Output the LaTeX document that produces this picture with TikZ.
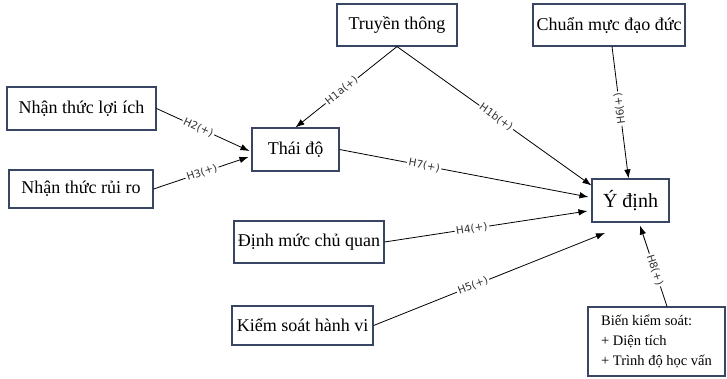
\documentclass[tikz,border=0pt]{standalone}
\usepackage{fontspec}
\setmainfont{Liberation Serif}
\newfontfamily\lblfont{DejaVu Sans}
\usetikzlibrary{arrows.meta,calc}
\definecolor{boxc}{RGB}{56,70,100}
\tikzset{
  box/.style={draw=boxc, line width=1.1pt, inner sep=2pt, font=\fontsize{18}{20}\selectfont},
  conn/.style={line width=0.8pt, -{Latex[length=9pt,width=6.5pt]}},
  hl/.style={font=\lblfont\fontsize{10.5}{11}\selectfont, text=black!80, fill=white, inner sep=1.5pt, sloped},
  hlr/.style={font=\lblfont\fontsize{10.5}{11}\selectfont, text=black!80, fill=white, inner sep=1.5pt}
}
\begin{document}
\begin{tikzpicture}[x=1pt,y=-1pt]
\useasboundingbox[fill=white] (0,0) rectangle (727,378);
\node[box, minimum width=120pt, minimum height=42pt] (tt) at (397,25) {Truyền thông};
\node[box, minimum width=152pt, minimum height=42pt] (cm) at (609,25) {Chuẩn mực đạo đức};
\node[box, minimum width=149pt, minimum height=43pt] (lich) at (81.5,108.5) {Nhận thức lợi ích};
\node[box, minimum width=87pt, minimum height=43pt] (thaido) at (295.5,149.5) {Thái độ};
\node[box, minimum width=144pt, minimum height=38pt] (ruiro) at (81,189) {Nhận thức rủi ro};
\node[box, minimum width=77pt, minimum height=43pt, font=\fontsize{20}{22}\selectfont] (ydinh) at (630.5,200.5) {Ý định};
\node[box, minimum width=150pt, minimum height=42pt] (dmcq) at (309,242) {Định mức chủ quan};
\node[box, minimum width=141pt, minimum height=39pt] (ksh) at (302.5,325.5) {Kiểm soát hành vi};
\node[box, minimum width=137pt, minimum height=69pt, align=left, font=\fontsize{14.5}{20}\selectfont] (bks) at (656.5,341.5) {Biến kiểm soát:\\+ Diện tích\\+ Trình độ học vấn};
\coordinate (h5end) at (605,233);

\draw[conn] (tt.south) -- node[hl, pos=0.545] {H1a(+)} (thaido.north);
\draw[conn] (tt.south) -- node[hl, pos=0.51] {H1b(+)} ($(ydinh.north west)+(0,7)$);
\draw[conn] ($(cm.south)+(3,0)$) -- node[hlr, pos=0.47, rotate=98] {H6(+)} ($(ydinh.north)+(-2,0)$);
\draw[conn] (lich.east) -- node[hl, pos=0.45] {H2(+)} ($(thaido.west)+(-2,1.5)$);
\draw[conn] (ruiro.east) -- node[hl, pos=0.51] {H3(+)} ($(thaido.west)+(-3,7.5)$);
\draw[conn] (thaido.east) -- node[hl, pos=0.34] {H7(+)} ($(ydinh.west)+(-3,-3.5)$);
\draw[conn] (dmcq.east) -- node[hl, pos=0.43] {H4(+)} ($(ydinh.west)+(-4,10.5)$);
\draw[conn] (ksh.east) -- node[hl, pos=0.43] {H5(+)} (h5end);
\draw[conn] ($(bks.north)+(10.5,0)$) -- node[hl, pos=0.45] {H8(+)} ($(ydinh.south)+(9.5,3)$);
\end{tikzpicture}
\end{document}
